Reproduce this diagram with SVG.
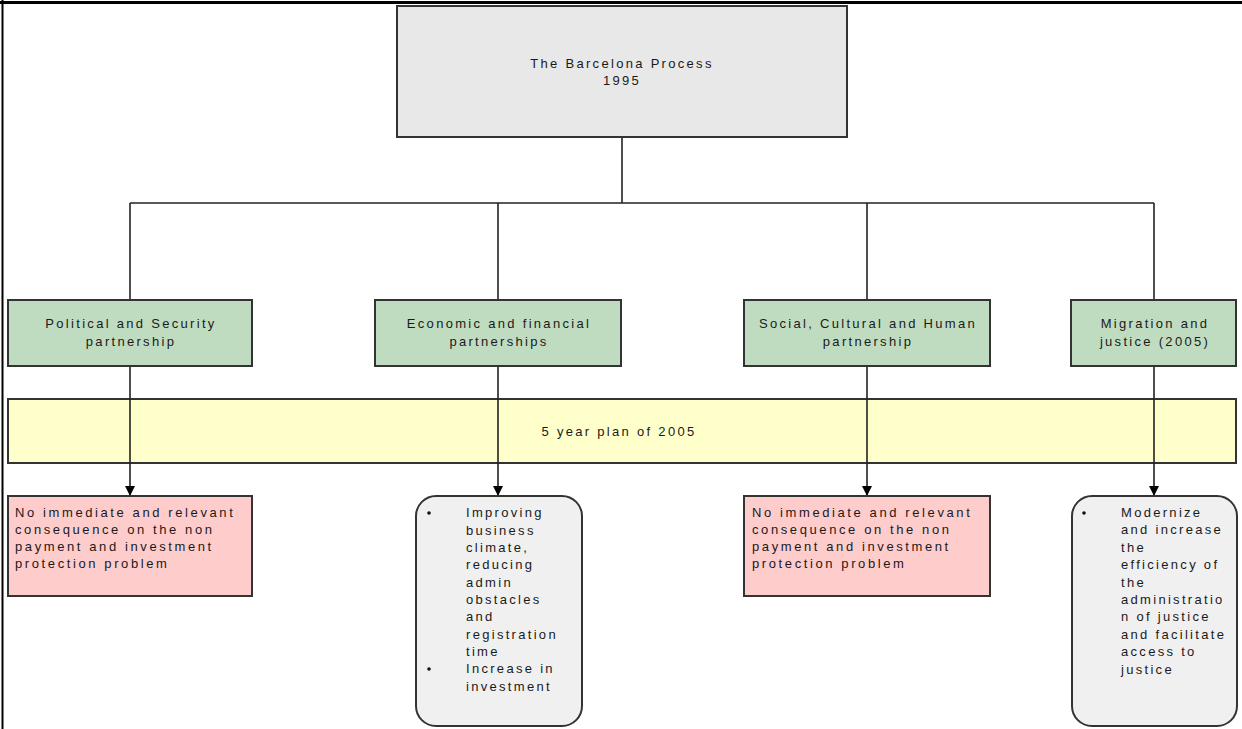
<svg xmlns="http://www.w3.org/2000/svg" width="1242" height="729" viewBox="0 0 1242 729">
<defs>
<style>
text{font-family:"Liberation Sans",Arial,sans-serif;font-size:13px;fill:#1a1a1a;letter-spacing:2.3px}
.c{text-anchor:middle}
.w{letter-spacing:2.6px}
.box{stroke:#333;stroke-width:2}
.conn{stroke:#222;stroke-width:1.6;fill:none}
</style>
<marker id="arr" viewBox="0 0 10 10" refX="10" refY="5" markerWidth="10" markerHeight="10" markerUnits="userSpaceOnUse" orient="auto">
<path d="M0,0 L10,5 L0,10 z" fill="#000"/>
</marker>
</defs>
<rect width="1242" height="729" fill="#fff"/>
<g id="page-border" stroke="#000">
<line x1="0" y1="2.5" x2="1242" y2="2.5" stroke-width="3"/>
<line x1="2.5" y1="0" x2="2.5" y2="729" stroke-width="2"/>
</g>
<g id="plan-band">
<rect x="8" y="399" width="1228" height="64" fill="#ffffcc" class="box"/>
<text x="619" y="436" class="c">5 year plan of 2005</text>
</g>
<g id="connectors">
<line class="conn" x1="622" y1="138" x2="622" y2="203"/>
<line class="conn" x1="130" y1="203" x2="1154" y2="203"/>
<line class="conn" x1="130" y1="203" x2="130" y2="300"/>
<line class="conn" x1="498" y1="203" x2="498" y2="300"/>
<line class="conn" x1="867" y1="203" x2="867" y2="300"/>
<line class="conn" x1="1154" y1="203" x2="1154" y2="300"/>
<line class="conn" x1="130" y1="366" x2="130" y2="496" marker-end="url(#arr)"/>
<line class="conn" x1="498" y1="366" x2="498" y2="496" marker-end="url(#arr)"/>
<line class="conn" x1="867" y1="366" x2="867" y2="496" marker-end="url(#arr)"/>
<line class="conn" x1="1154" y1="366" x2="1154" y2="496" marker-end="url(#arr)"/>
</g>
<g id="barcelona">
<rect x="397" y="6" width="450" height="131" fill="#e8e8e8" class="box"/>
<text x="622" y="68" class="c">The Barcelona Process</text>
<text x="622" y="85" class="c">1995</text>
</g>
<g id="political">
<rect x="8" y="300" width="244" height="66" fill="#c0dcc0" class="box"/>
<text x="131" y="328" class="c">Political and Security</text>
<text x="131" y="346" class="c">partnership</text>
</g>
<g id="economic">
<rect x="375" y="300" width="246" height="66" fill="#c0dcc0" class="box"/>
<text x="499" y="328" class="c">Economic and financial</text>
<text x="499" y="346" class="c">partnerships</text>
</g>
<g id="social">
<rect x="744" y="300" width="246" height="66" fill="#c0dcc0" class="box"/>
<text x="868" y="328" class="c">Social, Cultural and Human</text>
<text x="868" y="346" class="c">partnership</text>
</g>
<g id="migration">
<rect x="1071" y="300" width="165" height="66" fill="#c0dcc0" class="box"/>
<text x="1155" y="328" class="c">Migration and</text>
<text x="1155" y="346" class="c">justice (2005)</text>
</g>
<g id="political-result">
<rect x="8" y="496" width="244" height="100" fill="#ffcccc" class="box"/>
<text x="15" y="517" class="w">No immediate and relevant</text>
<text x="15" y="534" class="w">consequence on the non</text>
<text x="15" y="551" class="w">payment and investment</text>
<text x="15" y="568" class="w">protection problem</text>
</g>
<g id="economic-result">
<rect x="416" y="496" width="166" height="230" rx="20" ry="20" fill="#f0f0f0" class="box"/>
<circle cx="429" cy="513" r="1.8" fill="#111"/>
<circle cx="429" cy="669" r="1.8" fill="#111"/>
<text x="466" y="517">Improving</text>
<text x="466" y="534.5">business</text>
<text x="466" y="552">climate,</text>
<text x="466" y="569">reducing</text>
<text x="466" y="586.5">admin</text>
<text x="466" y="604">obstacles</text>
<text x="466" y="621">and</text>
<text x="466" y="638.5">registration</text>
<text x="466" y="656">time</text>
<text x="466" y="673">Increase in</text>
<text x="466" y="690.5">investment</text>
</g>
<g id="social-result">
<rect x="744" y="496" width="246" height="100" fill="#ffcccc" class="box"/>
<text x="752" y="517" class="w">No immediate and relevant</text>
<text x="752" y="534" class="w">consequence on the non</text>
<text x="752" y="551" class="w">payment and investment</text>
<text x="752" y="568" class="w">protection problem</text>
</g>
<g id="migration-result">
<rect x="1072" y="496" width="165" height="230" rx="20" ry="20" fill="#f0f0f0" class="box"/>
<circle cx="1084" cy="513" r="1.8" fill="#111"/>
<text x="1121" y="517">Modernize</text>
<text x="1121" y="534.4">and increase</text>
<text x="1121" y="551.8">the</text>
<text x="1121" y="569.2">efficiency of</text>
<text x="1121" y="586.6">the</text>
<text x="1121" y="604">administratio</text>
<text x="1121" y="621.4">n of justice</text>
<text x="1121" y="638.8">and facilitate</text>
<text x="1121" y="656.2">access to</text>
<text x="1121" y="673.6">justice</text>
</g>
</svg>
